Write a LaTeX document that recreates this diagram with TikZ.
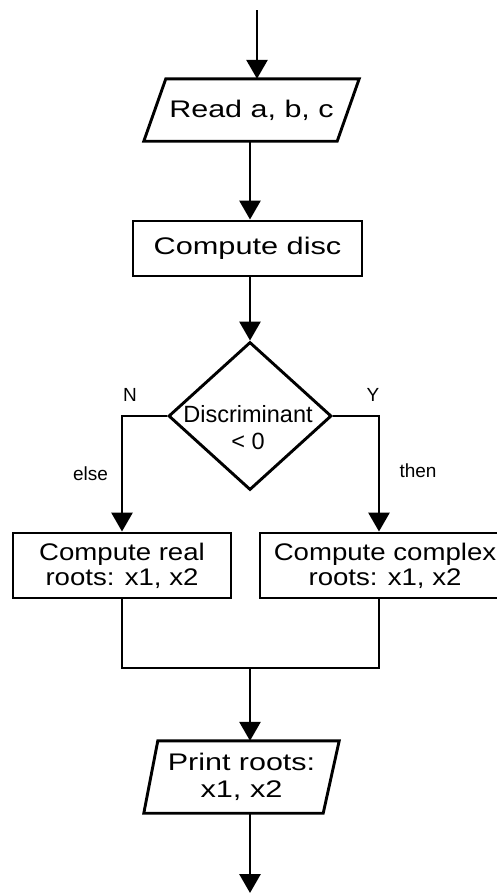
\documentclass[tikz,border=0pt]{standalone}
\usepackage{fontspec}
\setmainfont{Liberation Sans}
\usetikzlibrary{arrows.meta,shapes.geometric}
\newcommand\widen[2]{\scalebox{#1}[1]{#2}}

\begin{document}
\begin{tikzpicture}[x=1pt,y=-1pt,
  flow/.style={line width=2.9pt, line join=miter},
  arr/.style={flow,-{Triangle[width=21pt,length=19pt]}},
  box/.style={draw, line width=2.9pt, rectangle, inner sep=0pt, align=center,
              font=\fontsize{24}{25}\selectfont},
  iobox/.style={rectangle, inner sep=0pt, align=center,
              font=\fontsize{24}{27}\selectfont},
  lbl/.style={font=\fontsize{19}{19}\selectfont, inner sep=0pt, anchor=base}
]
\useasboundingbox (0,0) rectangle (497,894);
\clip (0,0) rectangle (497,894);

% input: read the coefficients
\node[iobox, minimum width=215pt, minimum height=62pt] (read) at (251.5,110)
  {\widen{1.27}{Read a, b, c}};
\draw[flow] ([xshift=22pt]read.north west) -- (read.north east)
  -- ([xshift=-22pt]read.south east) -- (read.south west) -- cycle;

% discriminant
\node[box, minimum width=229pt, minimum height=55pt] (disc) at (247.5,248.5)
  {\widen{1.28}{Compute disc}};

% decision
\node[draw, diamond, line width=2.9pt, minimum width=163pt, minimum height=148pt,
      inner sep=0pt] (dec) at (250,416) {};
\node[font=\fontsize{23.5}{27}\selectfont, align=center, inner sep=0pt] (dectext)
  at (248,428) {Discriminant\\< 0};

% the two branches
\node[box, minimum width=218pt, minimum height=65pt] (real) at (122,565.5)
  {\widen{1.15}{Compute real}\\\widen{1.15}{roots: x1, x2}};
\node[box, minimum width=250pt, minimum height=65pt] (cplx) at (385,565.5)
  {\widen{1.15}{Compute complex}\\\widen{1.15}{roots: x1, x2}};

% output
\node[iobox, minimum width=195pt, minimum height=72pt] (print) at (241.5,777)
  {\widen{1.27}{Print roots:}\\\widen{1.28}{x1, x2}};
\draw[flow] ([xshift=14pt]print.north west) -- (print.north east)
  -- ([xshift=-16pt]print.south east) -- (print.south west) -- cycle;

% connectors
\coordinate (start) at (257,10);
\coordinate (mid) at (250,0);
\coordinate (ycol) at (379,0);
\coordinate (join) at (250,668);
\coordinate (end) at (250,893);

\draw[arr] (start) -- (start |- read.north);
\draw[arr] (mid |- read.south) -- (mid |- disc.north);
\draw[arr] (mid |- disc.south) -- (dec.north);
\draw[arr] (dec.west) -- (dec.west -| real.north) -- (real.north);
\draw[arr] (dec.east) -- (dec.east -| ycol) -- (ycol |- cplx.north);
\draw[flow] (real.south) -- (real.south |- join) -- (join -| ycol) -- (ycol |- cplx.south);
\draw[arr] (join) -- (join |- print.north);
\draw[arr] (mid |- print.south) -- (end);

% branch labels
\node[lbl] (nlab) at (130,401) {N};
\node[lbl] (ylab) at (373,401) {Y};
\node[lbl] (elselab) at (90.5,480) {else};
\node[lbl] (thenlab) at (418,477) {then};
\end{tikzpicture}
\end{document}
